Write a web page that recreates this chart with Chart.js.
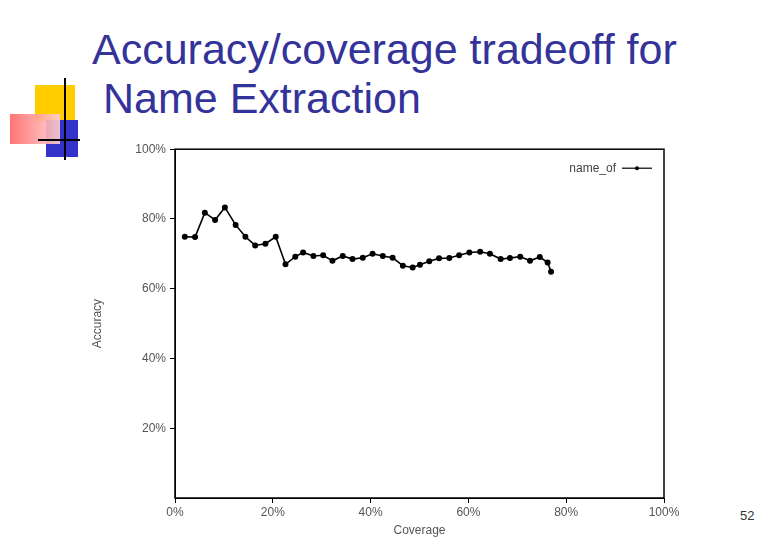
<!DOCTYPE html>
<html><head><meta charset="utf-8">
<script src="https://cdn.jsdelivr.net/npm/chart.js@4/dist/chart.umd.min.js"></script>
<style>
body{margin:0;width:780px;height:540px;position:relative;background:#fff;overflow:hidden;font-family:"Liberation Sans",Arial,sans-serif}
.t{position:absolute;color:#333399;font-size:43px;white-space:nowrap;line-height:1}
.b{position:absolute}
#wrap{position:absolute;left:90px;top:138px;width:600px;height:400px}
</style></head><body>
<div class="b" style="left:35px;top:85px;width:40px;height:36px;background:#ffcc00"></div>
<div class="b" style="left:46px;top:120px;width:32px;height:37px;background:#3333cc"></div>
<div class="b" style="left:10px;top:114px;width:50px;height:30px;background:linear-gradient(to right,#ff6666,#ffd0d0);opacity:.9"></div>
<div class="b" style="left:64px;top:78px;width:2px;height:82px;background:#000"></div>
<div class="b" style="left:38px;top:139px;width:42px;height:2px;background:#000"></div>
<div class="t" style="left:92px;top:28px">Accuracy/coverage tradeoff for</div>
<div class="t" style="left:103px;top:77px">Name Extraction</div>
<div class="b" style="left:740px;top:508px;font-size:13px;color:#333">52</div>
<div id="wrap"><canvas id="c"></canvas></div>
<script>
const seriesLabel = "name_of";
const coverage = [2.0,4.1,6.1,8.2,10.2,12.4,14.4,16.4,18.5,20.6,22.6,24.6,26.2,28.3,30.3,32.2,34.3,36.3,38.4,40.4,42.5,44.5,46.6,48.6,50.1,52.0,54.0,56.1,58.1,60.2,62.4,64.4,66.6,68.5,70.6,72.6,74.6,76.2,76.9];
const accuracy = [74.9,74.8,81.8,79.7,83.3,78.3,74.9,72.4,72.9,74.9,67.0,69.2,70.4,69.4,69.6,68.0,69.4,68.5,68.9,70.0,69.4,68.9,66.6,66.1,66.9,67.9,68.7,68.8,69.6,70.4,70.6,70.0,68.5,68.8,69.2,68.0,69.1,67.5,64.9];
const xTicks = [0,20,40,60,80,100];
const yTicks = [20,40,60,80,100];

const legendPlugin = {id:'lg',afterDraw(ch){
  const {ctx,chartArea:a}=ch;ctx.save();
  ctx.font='12px "Liberation Sans", Arial';ctx.fillStyle='#444';ctx.textAlign='right';ctx.textBaseline='middle';
  const y=a.top+19;ctx.fillText(ch.data.datasets[0].label,a.right-48,y);
  ctx.strokeStyle='#000';ctx.lineWidth=1.2;ctx.beginPath();ctx.moveTo(a.right-42,y);ctx.lineTo(a.right-12,y);ctx.stroke();
  ctx.fillStyle='#000';ctx.beginPath();ctx.arc(a.right-27,y,2,0,Math.PI*2);ctx.fill();
  ctx.restore();}};
const frame = {id:'fr',afterDraw(ch){const {ctx,chartArea:a}=ch;ctx.save();ctx.strokeStyle='#000';ctx.lineWidth=1.5;ctx.strokeRect(a.left,a.top,a.right-a.left,a.bottom-a.top);ctx.restore();}};

new Chart(document.getElementById('c'),{
  type:'line',
  data:{datasets:[{label:seriesLabel,data:coverage.map((x,i)=>({x,y:accuracy[i]})),borderColor:'#000',backgroundColor:'#000',borderWidth:1.6,pointRadius:2.2,pointHoverRadius:2.2,tension:0}]},
  options:{responsive:true,maintainAspectRatio:false,animation:false,
    layout:{padding:{top:10,right:26,left:0,bottom:0}},
    plugins:{legend:{display:false},tooltip:{enabled:false}},
    scales:{
      x:{type:'linear',min:0,max:100,afterBuildTicks(s){s.ticks=xTicks.map(v=>({value:v}));},
        ticks:{callback:v=>v+'%',color:'#555',font:{size:12,family:'"Liberation Sans", Arial'},padding:2,maxRotation:0},
        grid:{display:true,drawOnChartArea:false,tickLength:5,color:'#000'},border:{color:'#000'},
        title:{display:true,text:'Coverage',color:'#555',font:{size:12,family:'"Liberation Sans", Arial'},padding:0},
        afterFit(s){s.height=40;}},
      y:{type:'linear',min:0,max:100,afterBuildTicks(s){s.ticks=yTicks.map(v=>({value:v}));},
        ticks:{callback:v=>v+'%',color:'#555',font:{size:12,family:'"Liberation Sans", Arial'},padding:4},
        grid:{display:true,drawOnChartArea:false,tickLength:5,color:'#000'},border:{color:'#000'},
        title:{display:true,text:'Accuracy',color:'#555',font:{size:12,family:'"Liberation Sans", Arial'},padding:{top:0,bottom:16}},
        afterFit(s){s.width=85;}}
    }},
  plugins:[legendPlugin,frame]
});
</script></body></html>
